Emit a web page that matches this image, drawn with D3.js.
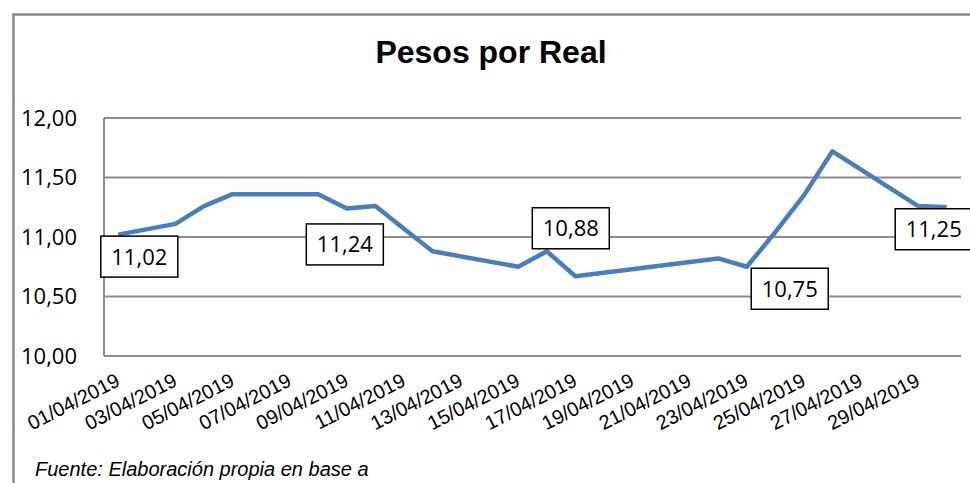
<!DOCTYPE html>
<html>
<head>
<meta charset="utf-8">
<script src="https://cdn.jsdelivr.net/npm/d3@7"></script>
<style>
    body { margin: 0; background: #fff; }
</style>
</head>
<body>
<script>
// dimensions
const width = 970;
const height = 483;

const margin = {
    top: 118,
    bottom: 127,
    left: 104,
    right: 9
};

// all days of april, the category axis
const days = d3.range(1, 31).map(function (d) {
    return (d < 10 ? "0" + d : "" + d) + "/04/2019";
});

// business days with a quote (weekends and holidays are skipped)
const quoteDays = ["01/04/2019", "03/04/2019", "04/04/2019", "05/04/2019", "08/04/2019",
    "09/04/2019", "10/04/2019", "11/04/2019", "12/04/2019", "15/04/2019", "16/04/2019",
    "17/04/2019", "22/04/2019", "23/04/2019", "24/04/2019", "25/04/2019", "26/04/2019",
    "29/04/2019", "30/04/2019"];
const quoteValues = [11.02, 11.11, 11.26, 11.36, 11.36,
    11.24, 11.26, 11.07, 10.88, 10.75, 10.88,
    10.67, 10.82, 10.75, 11.04, 11.35, 11.72,
    11.26, 11.25];

// days that carry a value label
const labelDays = ["01/04/2019", "09/04/2019", "16/04/2019", "23/04/2019", "30/04/2019"];

const yTicks = [10, 10.5, 11, 11.5, 12];
const xTickLabels = days.filter(function (d, i) { return i % 2 === 0; });

const title = "Pesos por Real";
const source = "Fuente: Elaboración propia en base a";

const line_color = "#4a7ebb";
const grid_color = "#8c8c8c";

// label box shift from its point, in px
const labelShift = [[21, 22], [-2, 36], [24, -23], [43, 22], [-13, 22]];

const es = d3.formatLocale({decimal: ",", thousands: ".", grouping: [3], currency: ["$", ""]});
const fmt = es.format(".2f");

let svg = d3.select("body")
    .append("svg")
    .attr("width", width)
    .attr("height", height);

svg.append("rect")
    .attr("width", width)
    .attr("height", height)
    .attr("fill", "#fff");

// outer chart frame (only top and left visible)
svg.append("path")
    .attr("d", "M13.5," + height + "V14.5H" + width)
    .attr("fill", "none")
    .attr("stroke", "#8a8a8a")
    .attr("stroke-width", 2.5);

let x = d3.scaleBand()
    .domain(days)
    .range([margin.left, width - margin.right]);

let y = d3.scaleLinear()
    .domain([10, 12])
    .range([height - margin.bottom, margin.top]);

function cx(d) {
    return x(d) + x.bandwidth() / 2;
}

// gridlines
svg.append("g")
    .selectAll("line")
    .data(yTicks)
    .enter()
    .append("line")
    .attr("x1", margin.left)
    .attr("x2", width - margin.right)
    .attr("y1", function (d) { return y(d); })
    .attr("y2", function (d) { return y(d); })
    .attr("stroke", grid_color)
    .attr("stroke-width", 2);

// left axis line
svg.append("line")
    .attr("x1", margin.left)
    .attr("x2", margin.left)
    .attr("y1", y(12))
    .attr("y2", y(10))
    .attr("stroke", grid_color)
    .attr("stroke-width", 2);

// y labels
let yAxis = svg.append("g")
    .attr("transform", "translate(" + (margin.left - 27) + ",0)")
    .call(d3.axisLeft(y).tickValues(yTicks).tickFormat(fmt).tickSize(0).tickPadding(0));
yAxis.select(".domain").remove();
yAxis.selectAll("text")
    .attr("font-family", "'Open Sans', sans-serif")
    .attr("font-size", 22)
    .attr("fill", "#000");

// x labels, rotated
let xAxis = svg.append("g")
    .attr("transform", "translate(0," + y(10) + ")")
    .call(d3.axisBottom(x).tickValues(xTickLabels).tickSize(0).tickPadding(0));
xAxis.select(".domain").remove();
xAxis.selectAll("text")
    .attr("font-family", "'Liberation Sans', Arial, sans-serif")
    .attr("font-size", 20)
    .attr("fill", "#000")
    .attr("text-anchor", "end")
    .attr("y", 0)
    .attr("dy", 0)
    .attr("transform", "translate(3,29) rotate(-27)");

// the line
let points = quoteDays.map(function (d, i) {
    return {day: d, value: quoteValues[i]};
});

svg.append("path")
    .datum(points)
    .attr("fill", "none")
    .attr("stroke", line_color)
    .attr("stroke-width", 4.5)
    .attr("stroke-linejoin", "round")
    .attr("d", d3.line()
        .x(function (d) { return cx(d.day); })
        .y(function (d) { return y(d.value); }));

// value labels in boxes
let labels = svg.append("g")
    .selectAll("g")
    .data(labelDays)
    .enter()
    .append("g")
    .attr("transform", function (d, i) {
        let v = quoteValues[quoteDays.indexOf(d)];
        return "translate(" + (cx(d) + labelShift[i][0]) + "," + (y(v) + labelShift[i][1]) + ")";
    });

labels.append("rect")
    .attr("x", -38.5)
    .attr("y", -20.5)
    .attr("width", 77)
    .attr("height", 41)
    .attr("fill", "#fff")
    .attr("stroke", "#000")
    .attr("stroke-width", 1.5);

labels.append("text")
    .attr("text-anchor", "middle")
    .attr("dy", "0.36em")
    .attr("font-family", "'Open Sans', sans-serif")
    .attr("font-size", 22)
    .text(function (d) {
        return fmt(quoteValues[quoteDays.indexOf(d)]);
    });

// title
svg.append("text")
    .attr("x", 491)
    .attr("y", 63)
    .attr("text-anchor", "middle")
    .attr("font-family", "'Liberation Sans', Arial, sans-serif")
    .attr("font-weight", "bold")
    .attr("font-size", 32)
    .text(title);

// source note
svg.append("text")
    .attr("x", 35)
    .attr("y", 476)
    .attr("font-family", "'Liberation Sans', Arial, sans-serif")
    .attr("font-style", "italic")
    .attr("font-size", 20)
    .text(source);
</script>
</body>
</html>
